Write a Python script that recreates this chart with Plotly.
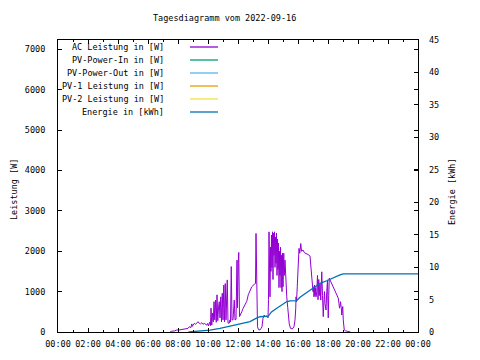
import plotly.graph_objects as go

DAY = "2022-09-16"
NEXT_DAY = "2022-09-17"

# AC Leistung [W]
ac_time = ["07:28","07:35","07:45","07:55","08:05","08:15","08:25","08:35","08:40","08:45","08:52","08:55","08:58",
           "09:00","09:05","09:10","09:15","09:20","09:25","09:30","09:35","09:40","09:45","09:50","09:55","09:58",
           "10:02","10:06","10:10","10:12","10:15","10:18","10:21","10:24","10:27","10:30","10:33","10:36","10:39",
           "10:42","10:45","10:48","10:51","10:54","10:57","11:00","11:03","11:06","11:09","11:12","11:15","11:17",
           "11:20","11:25","11:28","11:30","11:33","11:36","11:40","11:43","11:45","11:48","11:52","11:56","11:58",
           "12:01","12:03","12:06","12:10","12:15","12:20","12:28","12:35","12:41","12:48","12:55","13:05","13:10",
           "13:12","13:15","13:18","13:22","13:28","13:32","13:36","13:40","13:45","13:50","13:55","14:00","14:02",
           "14:04","14:06","14:08","14:10","14:12","14:14","14:16","14:18","14:20","14:22","14:24","14:26","14:28",
           "14:30","14:32","14:34","14:36","14:38","14:40","14:42","14:44","14:46","14:48","14:50","14:52","14:54",
           "14:56","14:58","15:00","15:03","15:05","15:08","15:12","15:15","15:19","15:22","15:25","15:30","15:37",
           "15:44","15:48","15:51","15:52","15:54","15:57","16:00","16:04","16:07","16:11","16:14","16:20","16:26",
           "16:32","16:40","16:48","16:50","16:53","16:55","16:58","17:00","17:02","17:04","17:06","17:08","17:10",
           "17:12","17:15","17:18","17:20","17:23","17:25","17:28","17:31","17:33","17:35","17:38","17:41","17:44",
           "17:46","17:48","17:52","17:55","17:58","18:00","18:01","18:03","18:05","18:08","18:11","18:15","18:22",
           "18:27","18:32","18:36","18:41","18:44","18:46","18:48","18:50","18:53","18:55","18:57","18:59","19:01",
           "19:03","19:05","19:10","19:14","19:22","19:30"]
ac_watt = [0,20,25,50,50,60,65,75,90,130,110,200,140,
           170,215,190,230,255,215,200,230,190,215,180,170,210,
           150,240,160,590,170,470,250,750,300,790,240,920,280,
           600,750,350,870,250,960,300,1160,250,1200,300,1250,1290,
           220,220,300,250,1620,300,300,790,790,300,310,1780,600,
           1700,1970,380,420,500,580,670,760,920,1030,1120,1180,1200,
           2440,545,130,60,50,90,130,340,420,380,400,350,800,
           2480,1800,870,2100,1500,2400,1600,2480,1300,2450,1900,2480,1600,
           2350,1700,2450,1400,2300,1550,2200,1100,2000,1400,2100,1100,1900,
           1000,1950,1120,1950,1400,1780,1120,870,600,300,200,90,75,
           130,300,590,870,750,1120,1460,2070,1950,2190,2000,2030,1960,
           1950,1920,1880,1740,1600,1460,1160,1000,1120,870,1160,900,1100,
           870,1000,1400,800,1300,900,1200,790,1400,1490,900,380,800,
           1000,700,545,1000,1290,600,350,900,1330,1290,1250,1180,1120,
           1050,960,900,840,700,590,650,750,600,420,550,630,300,
           150,50,30,25,15,0]

# Energie [kWh]
en_time = ["08:42","09:28","10:08","10:48","11:28","12:08","12:48","13:12","13:28","14:01","14:14","14:35",
           "14:55","15:14","15:28","15:55","16:08","16:35","17:01","17:28","17:55","18:22","18:48","19:01"]
en_kwh = [0,0.1,0.3,0.55,0.9,1.2,1.6,2.1,2.35,2.45,3.1,3.65,
          4.15,4.65,4.8,4.85,5.35,6.05,6.8,7.5,7.9,8.4,8.8,8.95]
en_end_kwh = 8.95

series_names = ["AC Leistung in [W]", "PV-Power-In in [W]", "PV-Power-Out in [W]",
                "PV-1 Leistung in [W]", "PV-2 Leistung in [W]", "Energie in [kWh]"]
series_colors = ["#9400D3", "#009E73", "#56B4E9", "#E69F00", "#F0E442", "#0072B2"]

y_ticks = [0, 1000, 2000, 3000, 4000, 5000, 6000, 7000]
y2_ticks = [0, 5, 10, 15, 20, 25, 30, 35, 40, 45]

FONT = "DejaVu Sans Mono"
fsize = 8.5

ac_x = [f"{DAY} {t}" for t in ac_time]
en_x = [f"{DAY} {t}" for t in en_time] + [f"{NEXT_DAY} 00:00"]
en_y = en_kwh + [en_end_kwh]

fig = go.Figure()
fig.add_trace(go.Scatter(x=ac_x, y=ac_watt, mode="lines", name=series_names[0],
                         line=dict(color=series_colors[0], width=1)))
for i in range(1, 5):
    fig.add_trace(go.Scatter(x=[], y=[], mode="lines", name=series_names[i],
                             line=dict(color=series_colors[i], width=1)))
fig.add_trace(go.Scatter(x=en_x, y=en_y, mode="lines", name=series_names[5], yaxis="y2",
                         line=dict(color=series_colors[5], width=1.3)))

# page has an 8px body margin
OFF = 8
PL, PR, PT, PB = 58, 418, 40, 332   # plot area in page pixels
W, H = 480 - OFF, 360 - OFF
pw, ph = PR - PL, PB - PT
L, T = PL - OFF, PT - OFF
R, B = W - L - pw, H - T - ph

def px(xp):
    return (xp - PL) / pw

def py(yp):
    return (PB - yp) / ph

txt = dict(family=FONT, size=fsize, color="black")
annotations = [
    dict(text="Tagesdiagramm vom 2022-09-16", x=px(224), y=py(18), xref="paper", yref="paper",
         xanchor="center", yanchor="middle", showarrow=False, font=txt),
    dict(text="Leistung [W]", x=px(14), y=py(190), xref="paper", yref="paper", textangle=-90,
         xanchor="center", yanchor="middle", showarrow=False, font=txt),
    dict(text="Energie [kWh]", x=px(452), y=py(192), xref="paper", yref="paper", textangle=-90,
         xanchor="center", yanchor="middle", showarrow=False, font=txt),
]
shapes = []
leg_y = [47, 60, 73, 86, 99, 112]
for name, col, yy in zip(series_names, series_colors, leg_y):
    annotations.append(dict(text=name, x=px(166), y=py(yy), xref="paper", yref="paper",
                            xanchor="right", yanchor="middle", showarrow=False, font=txt))
    shapes.append(dict(type="line", xref="paper", yref="paper", x0=px(190), x1=px(218),
                       y0=py(yy), y1=py(yy), line=dict(color=col, width=1.3)))

fig.update_layout(
    width=W, height=H,
    margin=dict(l=L, r=R, t=T, b=B, pad=0),
    paper_bgcolor="white", plot_bgcolor="white",
    showlegend=False,
    font=txt,
    xaxis=dict(range=[f"{DAY} 00:00", f"{NEXT_DAY} 00:00"], type="date",
               tick0=f"{DAY} 00:00", dtick=7200000, tickformat="%H:%M",
               showline=True, linecolor="black", linewidth=1, mirror="ticks",
               ticks="inside", ticklen=4, tickcolor="black", showgrid=False, zeroline=False,
               minor=dict(ticks="inside", dtick=3600000, ticklen=2, tickcolor="black", showgrid=False),
               ticklabelstandoff=4),
    yaxis=dict(range=[0, 7230], tickvals=y_ticks, ticktext=[str(v) for v in y_ticks],
               showline=True, linecolor="black", linewidth=1, mirror="ticks",
               ticks="inside", ticklen=4, tickcolor="black", showgrid=False, zeroline=False,
               ticklabelstandoff=10),
    yaxis2=dict(range=[0, 45], tickvals=y2_ticks, overlaying="y", side="right",
                showline=False, ticks="inside", ticklen=4, tickcolor="black",
                showgrid=False, zeroline=False, ticklabelstandoff=10),
    annotations=annotations,
    shapes=shapes,
)

fig.write_html("out.html")
